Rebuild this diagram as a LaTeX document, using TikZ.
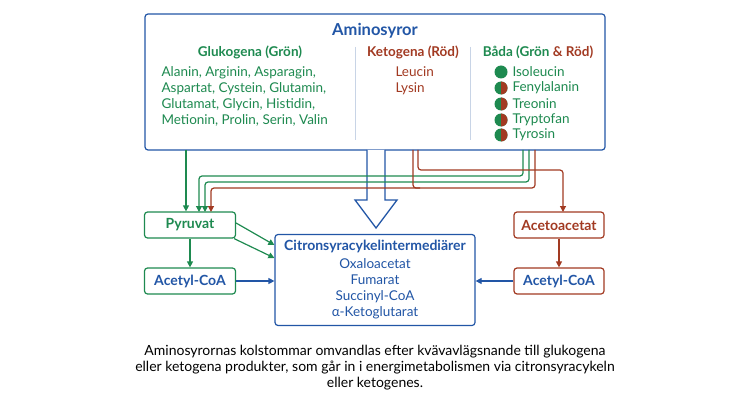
\documentclass[tikz,border=0pt]{standalone}
\usepackage{fontspec}
\setmainfont{Lato}
\usetikzlibrary{positioning,arrows.meta,shapes.arrows}
\definecolor{gron}{HTML}{1E8A50}
\definecolor{rod}{HTML}{A23A22}
\definecolor{bla}{HTML}{2256A6}
\definecolor{sep}{HTML}{C8D4E6}
\tikzset{
  box/.style={draw, rounded corners=3pt, line width=1.2pt, fill=white, inner sep=0pt},
  gbox/.style={box, draw=gron, minimum width=91pt, minimum height=26pt, font=\bfseries\fontsize{14}{16}\selectfont},
  rbox/.style={box, draw=rod, minimum width=90pt, minimum height=26pt, font=\bfseries\fontsize{14}{16}\selectfont},
  garr/.style={draw=gron, line width=1.2pt, -{Triangle[length=6pt,width=6pt]}},
  rarr/.style={draw=rod, line width=1.2pt, -{Triangle[length=6pt,width=6pt]}},
  barr/.style={draw=bla, line width=1.2pt, -{Triangle[length=6pt,width=6pt]}},
  txt/.style={font=\fontsize{13.5}{16}\selectfont, align=left},
  head/.style={font=\bfseries\fontsize{13.5}{15}\selectfont},
}
\begin{document}
\begin{tikzpicture}[x=1pt,y=-1pt]
\useasboundingbox (0,0) rectangle (750,409);

% amino acid box
\node[box, draw=bla, minimum width=460pt, minimum height=136pt] (amino) at (375,82) {};
\node[font=\bfseries\fontsize{16.5}{18}\selectfont, text=bla] (title) at (375,31) {Aminosyror};
\draw[sep, line width=0.8pt] (355,47) -- (355,140);
\draw[sep, line width=0.8pt] (470,47) -- (470,140);

\node[head, text=gron] (hglu) at (250,52) {Glukogena (Grön)};
\node[txt, text=gron, anchor=north west] (glu) at (158,63)
  {Alanin, Arginin, Asparagin,\\Aspartat, Cystein, Glutamin,\\Glutamat, Glycin, Histidin,\\Metionin, Prolin, Serin, Valin};
\node[head, text=rod] (hket) at (413,52) {Ketogena (Röd)};
\node[txt, text=rod, anchor=north west] (ket) at (392,63) {Leucin\\Lysin};
\node[head] (hbad) at (538,52) {\textcolor{gron}{Båda (Grön} \textcolor{rod}{\& Röd)}};

% both-type list
\foreach \y/\name/\half in {72/Isoleucin/0,88/Fenylalanin/1,104/Treonin/1,120/Tryptofan/1,135/Tyrosin/1}{
  \fill[gron] (501,\y) circle (6.5);
  \ifnum\half=1
    \fill[rod] (501,\y+6.5) -- (501,\y-6.5) arc[start angle=-90, end angle=90, radius=6.5] -- cycle;
  \fi
  \node[txt, text=gron, anchor=west] at (509,\y) {\name};
}

% hollow arrow into the cycle
\draw[bla, line width=1.3pt, fill=white] (367,150) -- (367,200) -- (355,200) -- (376,228)
  -- (397,200) -- (385,200) -- (385,150);

% product boxes
\node[gbox, text=gron] (pyr) at (190,225) {Pyruvat};
\node[gbox, text=bla] (acl) at (190,281) {Acetyl-CoA};
\node[rbox, text=rod] (aco) at (559,225) {Acetoacetat};
\node[rbox, text=bla] (acr) at (559,281) {Acetyl-CoA};
\node[box, draw=bla, minimum width=200pt, minimum height=91pt] (tca) at (375,280) {};
\node[font=\bfseries\fontsize{14}{16}\selectfont, text=bla] (tcat) at (375,246) {Citronsyracykelintermediärer};
\node[txt, text=bla, align=center, anchor=north] (tcal) at (375,255)
  {Oxaloacetat\\Fumarat\\Succinyl-CoA\\α-Ketoglutarat};

% routes out of the amino acid box
\coordinate (g0) at (186,150);
\coordinate (g1) at (523,150);
\coordinate (g2) at (529,150);
\coordinate (r1) at (535,150);
\coordinate (r2) at (413,150);
\coordinate (r3) at (418,150);
\draw[garr] (g0) -- (g0 |- pyr.north);
\draw[garr, rounded corners=3pt] (g1) |- (199,176) -- (199,212);
\draw[garr, rounded corners=3pt] (g2) |- (205,182) -- (205,212);
\draw[rod, line width=1.2pt, rounded corners=3pt] (r2) |- (420,188);
\draw[rarr, rounded corners=3pt] (r1) |- (211,188) -- (211,212);
\draw[rarr, rounded corners=3pt] (r3) |- (563,170) -- (563,212);

% into the cycle
\draw[garr] (pyr.east) ++(0,-2) -- (tca.west |- 0,245);
\draw[garr] (pyr.south east) ++(-2,0) -- (tca.west |- 0,258);
\draw[garr] (pyr) -- (acl);
\draw[barr] (acl) -- (acl -| tca.west);
\draw[rarr] (aco) -- (acr);
\draw[barr] (acr) -- (acr -| tca.east);

% caption
\node[font=\fontsize{14}{16}\selectfont, align=center] (cap) at (375,368)
  {Aminosyrornas kolstommar omvandlas efter kvävavlägsnande till glukogena\\eller ketogena produkter, som går in i energimetabolismen via citronsyracykeln\\eller ketogenes.};
\end{tikzpicture}
\end{document}
